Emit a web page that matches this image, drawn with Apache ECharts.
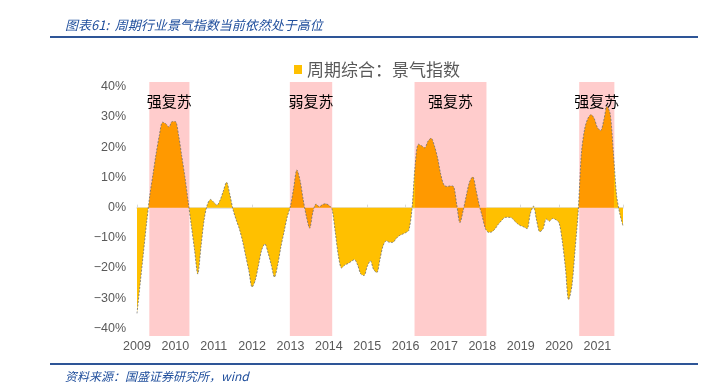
<!DOCTYPE html>
<html>
<head>
<meta charset="utf-8">
<script src="https://cdn.jsdelivr.net/npm/echarts@6/dist/echarts.min.js"></script>
<style>html,body{margin:0;padding:0;background:#fff;}#c{width:711px;height:390px;}</style>
</head>
<body>
<div id="c"></div>
<script>
// Monthly index, starting Jan 2009 (index 0)
const startYear = 2009;
const seriesName = '周期综合：景气指数';
const values = [
 -35,-25,-15,-5,4,11,18,24,28.3,27.8,26.7,28.5,28.5,24,17,10,2,-6,-14,-22,
 -13,-4,1,2.7,1.8,0.8,2.5,5.5,8.4,4.5,-0.5,-4,-7,-11,-16,-21,-26.3,-24,-19,-14,
 -12,-15,-19,-23,-19,-13,-8,-3,0.5,6.5,12.5,9,2.5,-3,-6.8,-1.5,1.2,0.3,1,1.3,
 0.8,-0.5,-8,-16,-20,-19,-18.5,-17.8,-17.2,-19,-22,-22.5,-19.5,-17.6,-20.5,-21.5,-17,-12.5,-11,-11.5,
 -11.5,-10.3,-9.3,-8.8,-8.3,-7.5,-0.5,14,21,20.5,19.8,22,23,20.5,16.5,11,7.5,7,7.2,7,
 1,-5,-1,4,8.5,10.2,6,1,-3,-7,-8.2,-8,-7,-5.5,-4.3,-3.3,-3.2,-3.3,-4.3,-5.3,
 -6,-6.4,-7,-2,0.5,-4.3,-8,-7,-3.8,-4.5,-3.6,-4,-5,-11,-20,-30.5,-26,-14,-1,18,
 26,29.5,30.8,29.5,26.5,25.5,29,33.5,31,18,4,-2,-6
];
// Recovery periods (month index, start/end) and labels
const periodStart = [3.85, 47.8, 86.8, 138.3];
const periodEnd   = [16.4, 61.05, 109.3, 149.3];
const periodLabel = ['强复苏', '弱复苏', '强复苏', '强复苏'];
const yTicks = [-40,-30,-20,-10,0,10,20,30,40];

const YELLOW = '#FFC000', ORANGE = '#FF9900', PINK = '#FFCCCC';
const lastIdx = values.length - 1;
const data = values.map((v, i) => [i, v]);

const pieces = [];
let prev = -1;
periodStart.forEach((s, k) => {
  pieces.push({ gte: prev, lt: s, color: YELLOW });
  pieces.push({ gte: s, lt: periodEnd[k], color: ORANGE });
  prev = periodEnd[k];
});
pieces.push({ gte: prev, lte: lastIdx + 1, color: YELLOW });

const markAreaData = periodStart.map((s, k) => [
  { xAxis: s, name: periodLabel[k] },
  { xAxis: periodEnd[k] }
]);

const chart = echarts.init(document.getElementById('c'), null, { renderer: 'canvas' });
const option = {
  animation: false,
  backgroundColor: '#fff',
  title: [
    { text: '图表61:  周期行业景气指数当前依然处于高位', left: 60, top: 14,
      textStyle: { fontSize: 13, fontStyle: 'italic', fontWeight: 'normal', color: '#1F4E9C', fontFamily: 'Noto Sans CJK SC' } },
    { text: '资料来源：国盛证券研究所，wind', left: 60, top: 365,
      textStyle: { fontSize: 12, fontStyle: 'italic', fontWeight: 'normal', color: '#1F4E9C', fontFamily: 'Noto Sans CJK SC' } }
  ],
  graphic: [
    { type: 'line', shape: { x1: 50, y1: 37, x2: 698, y2: 37 }, style: { stroke: '#2E5597', lineWidth: 2 } },
    { type: 'line', shape: { x1: 50, y1: 364, x2: 698, y2: 364 }, style: { stroke: '#2E5597', lineWidth: 2 } }
  ],
  legend: {
    data: [seriesName], left: 289, top: 56, icon: 'rect', itemWidth: 8, itemHeight: 9,
    textStyle: { fontSize: 17, color: '#595959', fontFamily: 'Noto Sans CJK SC' }
  },
  grid: { left: 137, right: 88, top: 82, bottom: 54 },
  visualMap: { type: 'piecewise', show: false, dimension: 0, seriesIndex: 1, pieces: pieces },
  xAxis: [
    { type: 'value', min: 0, max: lastIdx, interval: 12, position: 'bottom',
      axisLine: { show: false, onZero: false }, axisTick: { show: false }, splitLine: { show: false },
      axisLabel: { margin: 4, fontSize: 12.5, color: '#595959', fontFamily: 'Liberation Sans',
        formatter: v => String(startYear + v / 12) } },
    { type: 'value', min: 0, max: lastIdx, interval: 12,
      axisLine: { show: true, onZero: true, lineStyle: { color: '#D9D9D9', width: 1.5 } },
      axisTick: { show: true, length: 3, lineStyle: { color: '#D9D9D9' } },
      axisLabel: { show: false }, splitLine: { show: false } }
  ],
  yAxis: {
    type: 'value', min: -42.5, max: 41.6,
    axisLine: { show: false }, axisTick: { show: false }, splitLine: { show: false },
    axisLabel: { customValues: yTicks, margin: 11, fontSize: 12.5, color: '#595959', fontFamily: 'Liberation Sans',
      formatter: v => (v < 0 ? '−' + (-v) : v) + '%' }
  },
  series: [
    { type: 'line', name: 'periods', data: [], z: 1, silent: true,
      markArea: { silent: true, itemStyle: { color: PINK, opacity: 1 },
        label: { show: true, position: 'insideTop', distance: 12, fontSize: 15, color: '#000', fontFamily: 'Noto Sans CJK SC' },
        data: markAreaData } },
    { type: 'line', name: seriesName, data: data, z: 2, smooth: 0.3, showSymbol: false,
      itemStyle: { color: YELLOW }, lineStyle: { width: 0 }, areaStyle: { opacity: 1 } },
    { type: 'line', name: 'outline', data: data, z: 3, smooth: 0.3, showSymbol: false, silent: true,
      itemStyle: { color: '#6f6f6f' }, lineStyle: { width: 0.8, color: '#6f6f6f', type: [2, 1.5] } }
  ]
};
chart.setOption(option);
</script>
</body>
</html>
